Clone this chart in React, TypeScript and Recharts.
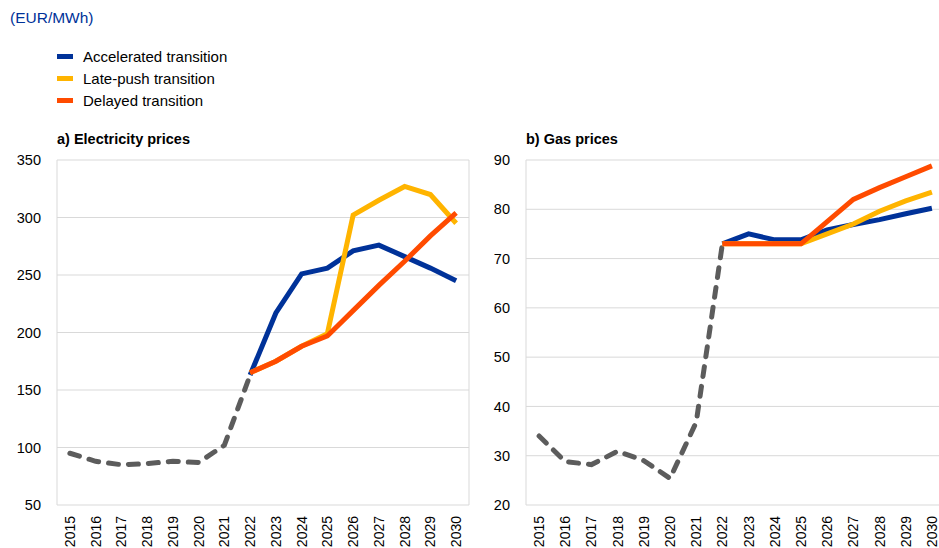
import React from 'react'
import { LineChart, Line, XAxis, YAxis, CartesianGrid } from 'recharts'

const years = ['2015', '2016', '2017', '2018', '2019', '2020', '2021', '2022', '2023', '2024', '2025', '2026', '2027', '2028', '2029', '2030']

// a) electricity prices, EUR/MWh
const elecHist = [95, 88, 85, 86, 88, 87, 102, 163, null, null, null, null, null, null, null, null]
const elecAccelerated = [null, null, null, null, null, null, null, 163, 217, 251, 256, 271, 276, 266, 256, 245]
const elecLatePush = [null, null, null, null, null, null, null, 165, 175, 188, 199, 302, 315, 327, 320, 295]
const elecDelayed = [null, null, null, null, null, null, null, 165, 175, 188, 197, 219, 241, 262, 284, 304]

// b) gas prices, EUR/MWh
const gasHist = [34, 28.8, 28.2, 30.9, 29, 25.4, 36.8, 73, null, null, null, null, null, null, null, null]
const gasAccelerated = [null, null, null, null, null, null, null, 73, 75, 73.8, 73.8, 75.8, 76.9, 77.9, 79.1, 80.2]
const gasLatePush = [null, null, null, null, null, null, null, 73, 73, 73, 73, 75, 77, 79.6, 81.7, 83.5]
const gasDelayed = [null, null, null, null, null, null, null, 73, 73, 73, 73, 77.5, 82, 84.4, 86.6, 88.8]

const elecTicks = [50, 100, 150, 200, 250, 300, 350]
const gasTicks = [20, 30, 40, 50, 60, 70, 80, 90]

const seriesNames = ['Accelerated transition', 'Late-push transition', 'Delayed transition']
const seriesKeys = ['acc', 'late', 'del']
const colors = ['#003299', '#ffb400', '#ff4b00']
const histColor = '#5c5c5c'
const font = "'Liberation Sans', Arial, sans-serif"

const elecData = years.map((year, i) => ({
  i, year, hist: elecHist[i], acc: elecAccelerated[i], late: elecLatePush[i], del: elecDelayed[i],
}))
const gasData = years.map((year, i) => ({
  i, year, hist: gasHist[i], acc: gasAccelerated[i], late: gasLatePush[i], del: gasDelayed[i],
}))

// category boundaries for the vertical grid, centers for the labels
const boundaryTicks = years.map((_, i) => i - 0.5).concat(years.length - 0.5)
const centerTicks = years.map((_, i) => i)
const xDomain = [-0.5, years.length - 0.5]

const YearTick = ({ x, y, payload }: any) => (
  <text
    x={x}
    y={y}
    transform={`rotate(-90 ${x} ${y})`}
    textAnchor="end"
    dominantBaseline="central"
    fontSize={14}
    fontFamily={font}
    fill="#000"
  >
    {years[payload.value]}
  </text>
)

function Panel({ data, ticks, yWidth, width, marginRight }: any) {
  return (
    <LineChart width={width} height={418} data={data} margin={{ top: 30, right: marginRight, bottom: 0, left: 0 }}>
      <CartesianGrid stroke="#d9d9d9" strokeWidth={1} />
      <XAxis
        type="number"
        dataKey="i"
        domain={xDomain}
        ticks={boundaryTicks}
        allowDataOverflow
        height={0}
        tick={false}
        axisLine={false}
        tickLine={false}
      />
      <XAxis
        xAxisId="lab"
        type="number"
        dataKey="i"
        domain={xDomain}
        ticks={centerTicks}
        interval={0}
        allowDataOverflow
        height={43}
        axisLine={false}
        tickLine={false}
        tickSize={0}
        tickMargin={11}
        tick={<YearTick />}
      />
      <YAxis
        type="number"
        domain={[ticks[0], ticks[ticks.length - 1]]}
        ticks={ticks}
        interval={0}
        width={yWidth}
        axisLine={false}
        tickLine={false}
        tickSize={0}
        tickMargin={16}
        tick={{ fontSize: 14.5, fill: '#000', fontFamily: font }}
      />
      <Line
        dataKey="hist"
        stroke={histColor}
        strokeWidth={5}
        strokeDasharray="10 10"
        strokeLinecap="round"
        dot={false}
        activeDot={false}
        isAnimationActive={false}
      />
      {seriesKeys.map((k, idx) => (
        <Line key={k} dataKey={k} stroke={colors[idx]} strokeWidth={5} dot={false} activeDot={false} isAnimationActive={false} />
      ))}
    </LineChart>
  )
}

export default function App() {
  return (
    <div style={{ position: 'fixed', left: 0, top: 0, width: 939, height: 548, overflow: 'hidden', background: '#fff', fontFamily: font }}>
      <div style={{ position: 'absolute', left: 10, top: 9, fontSize: 15.5, color: '#003299' }}>(EUR/MWh)</div>
      {seriesNames.map((name, idx) => (
        <div key={name} style={{ position: 'absolute', left: 57, top: 47 + idx * 22, height: 18, display: 'flex', alignItems: 'center' }}>
          <div style={{ width: 16, height: 5, background: colors[idx], marginRight: 10 }} />
          <span style={{ fontSize: 15, color: '#000' }}>{name}</span>
        </div>
      ))}
      <div style={{ position: 'absolute', left: 57, top: 131, fontSize: 14.5, fontWeight: 'bold', color: '#000' }}>a) Electricity prices</div>
      <div style={{ position: 'absolute', left: 526, top: 131, fontSize: 14.5, fontWeight: 'bold', color: '#000' }}>b) Gas prices</div>
      <div style={{ position: 'absolute', left: 0, top: 130 }}>
        <Panel data={elecData} ticks={elecTicks} yWidth={57} width={480} marginRight={11} />
      </div>
      <div style={{ position: 'absolute', left: 480, top: 130 }}>
        <Panel data={gasData} ticks={gasTicks} yWidth={46} width={470} marginRight={5} />
      </div>
    </div>
  )
}
